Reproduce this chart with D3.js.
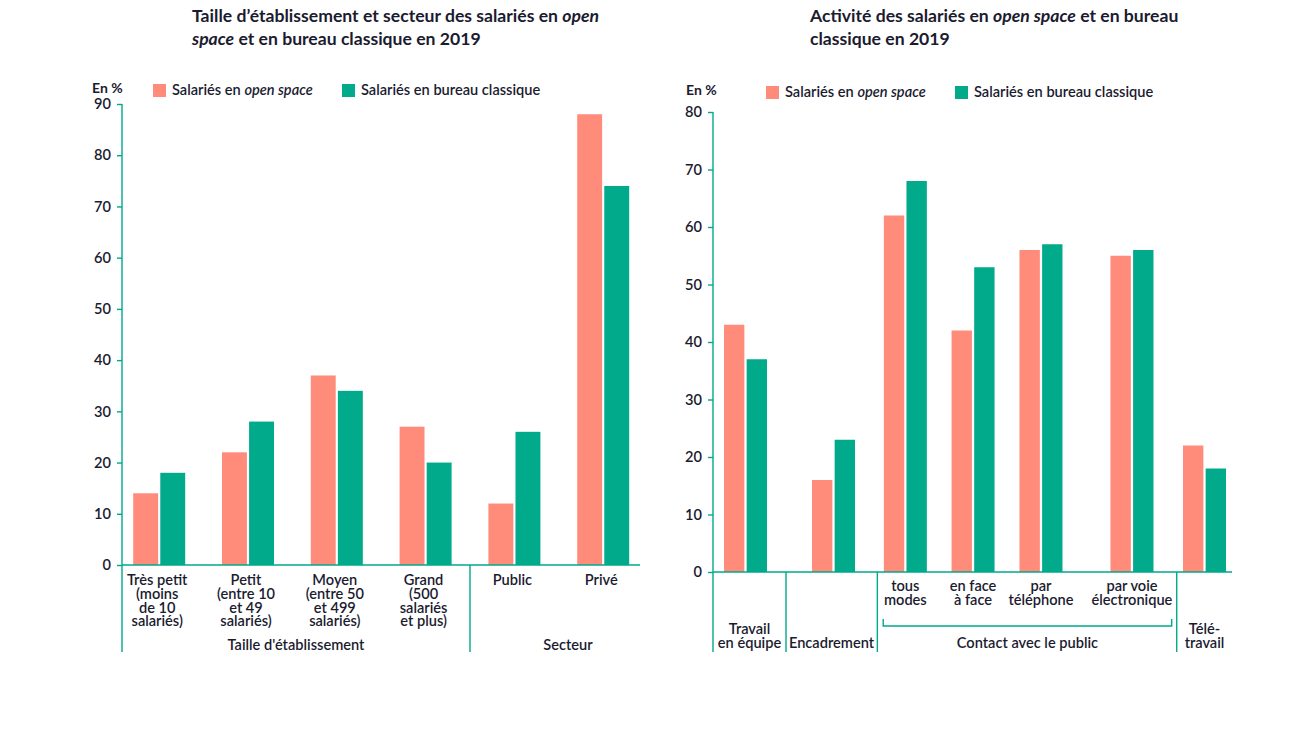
<!DOCTYPE html>
<html><head><meta charset="utf-8">
<script src="https://cdn.jsdelivr.net/npm/d3@7/dist/d3.min.js"></script>
<style>
body{margin:0;background:#fff;}
svg{display:block;}
text{font-family:Lato,"Open Sans",sans-serif;fill:#1b1b30;}
</style></head>
<body>
<svg id="chart" width="1297" height="751"></svg>
<script>
// ---------- DATA ----------
const seriesNames = ["Salariés en open space", "Salariés en bureau classique"];
const leftCategories = ["Très petit", "Petit", "Moyen", "Grand", "Public", "Privé"];
const leftLabels = [
  ["Très petit", "(moins", "de 10", "salariés)"],
  ["Petit", "(entre 10", "et 49", "salariés)"],
  ["Moyen", "(entre 50", "et 499", "salariés)"],
  ["Grand", "(500", "salariés", "et plus)"],
  ["Public"],
  ["Privé"]
];
const leftOpen = [14, 22, 37, 27, 12, 88];
const leftClassique = [18, 28, 34, 20, 26, 74];
const leftTicks = [0, 10, 20, 30, 40, 50, 60, 70, 80, 90];
const leftGroups = ["Taille d'établissement", "Secteur"];

const rightCategories = ["Travail en équipe", "Encadrement", "tous modes", "en face à face", "par téléphone", "par voie électronique", "Télétravail"];
const rightOpen = [43, 16, 62, 42, 56, 55, 22];
const rightClassique = [37, 23, 68, 53, 57, 56, 18];
const rightTicks = [0, 10, 20, 30, 40, 50, 60, 70, 80];
const rightGroup = "Contact avec le public";

// ---------- STYLE / LAYOUT ----------
const C_OPEN = "#ff8b7b", C_CLASS = "#00aa8b", C_AXIS = "#00a98b";
const FS = "14.6px";
const svg = d3.select("#chart");

function title(g, x, lines, fs) {
  lines.forEach((parts, i) => {
    const t = g.append("text").attr("x", x).attr("y", 22 + i * 23)
      .style("font-size", fs).style("font-weight", 700);
    parts.forEach(p => t.append("tspan").text(p[0]).style("font-style", p[1] ? "italic" : "normal"));
  });
}

function legend(g, x0, x1, y, yLab, xLab) {
  g.append("text").attr("x", xLab).attr("y", yLab).text("En %")
    .style("font-size", "14px").style("font-weight", 700);
  [[x0, C_OPEN, 0], [x1, C_CLASS, 1]].forEach(([x, c, i]) => {
    g.append("rect").attr("x", x).attr("y", y - 11).attr("width", 13).attr("height", 13).attr("fill", c);
    const t = g.append("text").attr("x", x + 19).attr("y", y)
      .style("font-size", FS).style("font-weight", 600);
    if (i === 0) {
      t.append("tspan").text("Salariés en ");
      t.append("tspan").text("open space").style("font-style", "italic");
    } else t.text(seriesNames[1]);
  });
}

function yAxis(g, y, ticks, x) {
  const ax = g.append("g").attr("transform", `translate(${x},0)`)
    .call(d3.axisLeft(y).tickValues(ticks).tickSize(5).tickPadding(6));
  ax.select(".domain").remove();
  ax.selectAll(".tick line").attr("stroke", C_AXIS).attr("stroke-width", 1.4);
  ax.selectAll(".tick text").style("font-size", FS).style("font-weight", 600)
    .style("font-family", "Lato,sans-serif").attr("fill", "#1b1b30");
}

function line(g, x1, y1, x2, y2) {
  g.append("line").attr("x1", x1).attr("y1", y1).attr("x2", x2).attr("y2", y2)
    .attr("stroke", C_AXIS).attr("stroke-width", 1.4);
}

function multiText(g, x, y0, lines, lh) {
  lines.forEach((l, i) => g.append("text").attr("text-anchor", "middle")
    .style("font-size", FS).style("font-weight", 600)
    .attr("x", x).attr("y", y0 + i * lh).text(l));
}

// ---------- LEFT CHART ----------
{
  const g = svg.append("g");
  title(g, 192, [[["Taille d’établissement et secteur des salariés en ", 0], ["open", 1]],
                 [["space", 1], [" et en bureau classique en 2019", 0]]], "17.6px");
  legend(g, 153, 342, 95, 93, 92);
  const y = d3.scaleLinear().domain([0, 90]).range([565, 104]);
  const x = d3.scaleBand().domain(leftCategories).range([114.8, 647.6]);
  const xs = d3.scaleBand().domain(seriesNames).range([0, 52]).paddingInner(0.08);
  const off = (x.bandwidth() - 52) / 2;
  yAxis(g, y, leftTicks, 122);
  const data = leftCategories.map((c, i) => ({c, v: [leftOpen[i], leftClassique[i]]}));
  data.forEach(d => {
    d.v.forEach((v, k) => {
      g.append("rect").attr("x", x(d.c) + off + xs(seriesNames[k])).attr("width", xs.bandwidth())
        .attr("y", y(v)).attr("height", y(0) - y(v)).attr("fill", k ? C_CLASS : C_OPEN);
    });
  });
  line(g, 122, 104, 122, 652);
  line(g, 122, 565, 640, 565);
  const sep = (x("Grand") + x("Public") + x.bandwidth()) / 2;
  line(g, sep, 565, sep, 652);
  leftCategories.forEach((c, i) => multiText(g, x(c) + x.bandwidth() / 2 - 2, 585, leftLabels[i], 13.8));
  multiText(g, (122 + sep) / 2, 650, [leftGroups[0]], 14);
  multiText(g, 568, 650, [leftGroups[1]], 14);
}

// ---------- RIGHT CHART ----------
{
  const g = svg.append("g");
  title(g, 810, [[["Activité des salariés en ", 0], ["open space", 1], [" et en bureau", 0]],
                 [["classique en 2019", 0]]], "17.6px");
  legend(g, 766, 955, 97, 95, 686);
  const y = d3.scaleLinear().domain([0, 80]).range([572, 112]);
  // slot positions (layout units) of each category centre
  const slot = d3.scaleOrdinal().domain(rightCategories).range([0, 7.67, 13.93, 19.83, 25.75, 33.68, 40]);
  const u = d3.scaleLinear().domain([0, 40]).range([745.5, 1204.5]);
  const xs = d3.scaleBand().domain(seriesNames).range([-21.5, 21.5]).paddingInner(0.1);
  yAxis(g, y, rightTicks, 713);
  rightCategories.forEach((c, i) => {
    [rightOpen[i], rightClassique[i]].forEach((v, k) => {
      g.append("rect").attr("x", u(slot(c)) + xs(seriesNames[k])).attr("width", xs.bandwidth())
        .attr("y", y(v)).attr("height", y(0) - y(v)).attr("fill", k ? C_CLASS : C_OPEN);
    });
  });
  line(g, 713, 112, 713, 652);
  line(g, 713, 572, 1232, 572);
  [3.53, 11.49, 37.58].forEach(s => line(g, u(s), 572, u(s), 652));
  // bracket
  const b0 = u(12.0), b1 = u(37.14);
  g.append("path").attr("d", `M${b0},619V626H${b1}V619`).attr("fill", "none")
    .attr("stroke", C_AXIS).attr("stroke-width", 1.4);
  const cx = c => u(slot(c));
  multiText(g, cx("Travail en équipe") + 4, 634, ["Travail", "en équipe"], 13.5);
  multiText(g, cx("Encadrement") - 2, 647.5, ["Encadrement"], 13.5);
  multiText(g, cx("tous modes"), 591, ["tous", "modes"], 13.5);
  multiText(g, cx("en face à face"), 591, ["en face", "à face"], 13.5);
  multiText(g, cx("par téléphone"), 591, ["par", "téléphone"], 13.5);
  multiText(g, cx("par voie électronique"), 591, ["par voie", "électronique"], 13.5);
  multiText(g, cx("Télétravail"), 634, ["Télé-", "travail"], 13.5);
  multiText(g, (b0 + b1) / 2, 647.5, [rightGroup], 13.5);
}
</script>
</body></html>
